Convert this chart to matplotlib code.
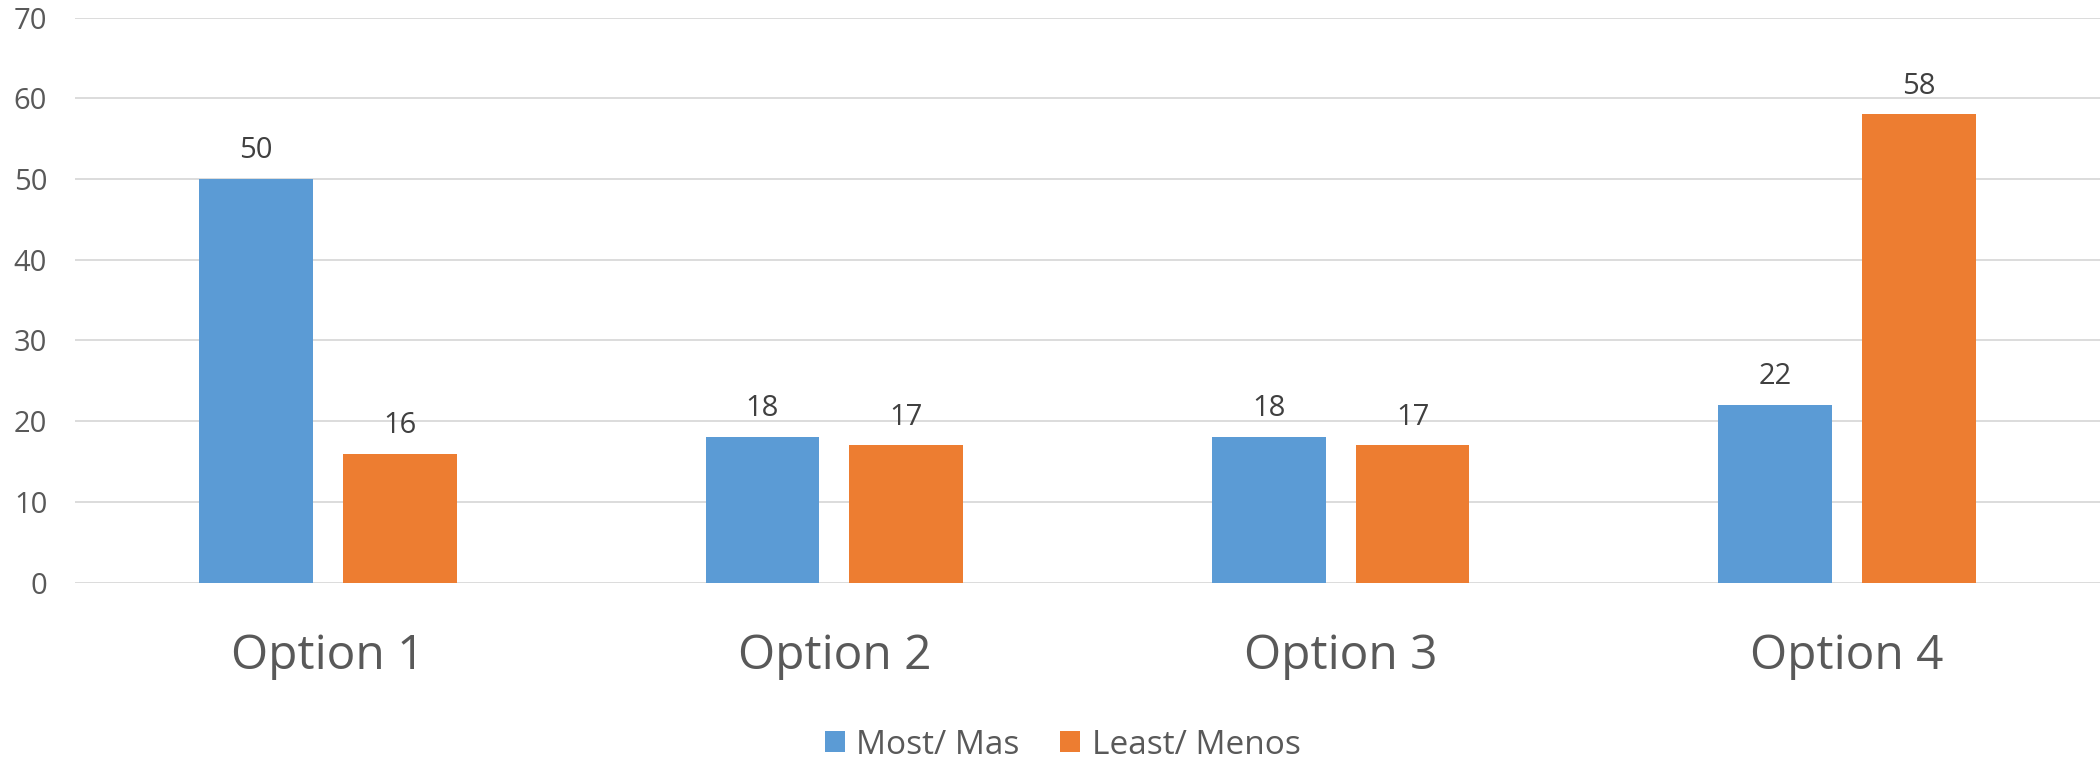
import numpy as np
import matplotlib.pyplot as plt

plt.rcParams['font.family'] = ['Open Sans', 'DejaVu Sans']

categories = ["Option 1", "Option 2", "Option 3", "Option 4"]
most = [50, 18, 18, 22]
least = [16, 17, 17, 58]
series_names = ["Most/ Mas", "Least/ Menos"]

blue = "#5B9BD5"
orange = "#ED7D31"
grid_c = "#D9D9D9"
txt_c = "#595959"

fig = plt.figure(figsize=(21, 7.63), dpi=100)
ax = fig.add_axes([75/2100, 1-582.7/763, 1-75/2100, (582.7-17.5)/763])

x = np.arange(len(categories))
w = 0.225
off = 0.142
b1 = ax.bar(x - off, most, w, color=blue, label=series_names[0], zorder=3)
b2 = ax.bar(x + off, least, w, color=orange, label=series_names[1], zorder=3)

for bars in (b1, b2):
    for r in bars:
        ax.annotate(str(int(r.get_height())), (r.get_x() + r.get_width()/2, r.get_height()),
                    xytext=(0, 10), textcoords="offset points", ha="center", va="bottom",
                    fontsize=21, color="#404040")

ax.set_xlim(-0.5, 3.5)
ax.set_ylim(0, 70)
ax.set_yticks(range(0, 71, 10))
ax.yaxis.grid(True, color=grid_c, lw=1.3, zorder=0)
ax.set_axisbelow(True)
for s in ax.spines.values():
    s.set_visible(False)
ax.tick_params(axis="y", length=0, pad=20, labelsize=21, labelcolor=txt_c)
ax.set_xticks(x)
ax.set_xticklabels(categories)
ax.tick_params(axis="x", length=0, pad=36, labelsize=34.5, labelcolor=txt_c)

fig.legend(handles=[b1, b2], loc="center", bbox_to_anchor=(0.506, 1-745/763), ncol=2,
           frameon=False, fontsize=24, labelcolor=txt_c, handlelength=0.6, handleheight=0.6,
           handletextpad=0.35, columnspacing=1.2)

fig.savefig("out.png", dpi=100)
